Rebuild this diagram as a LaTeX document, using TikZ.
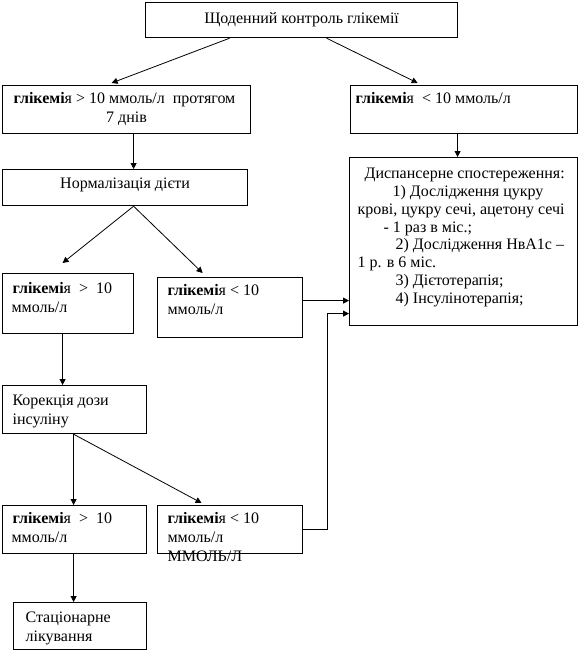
\documentclass[tikz,border=0pt]{standalone}
\usepackage{fontspec}
\setmainfont{Liberation Serif}
\usetikzlibrary{arrows.meta,calc}
\newdimen\pxu \pxu=0.75pt
\newcommand{\gl}{\textbf{глікемі}я}
\newcommand{\Ln}[3][l]{\makebox[\linewidth][#1]{\hspace*{#2\pxu}#3}\par}
\newcommand{\Bx}[3]{\parbox[t][#2\pxu][t]{#1\pxu}{\setlength{\parskip}{0pt}#3}}
\newcommand{\St}[1]{\rule{0pt}{#1\pxu}}
\tikzset{
  box/.style={draw, line width=0.9pt, inner sep=0pt, anchor=north west,
    font=\fontsize{12pt}{14.3pt}\selectfont},
  arr/.style={line width=0.6pt, -{Triangle[length=4.5pt,width=4.5pt]}}
}
\begin{document}
\begin{tikzpicture}[x=0.75pt,y=-0.75pt]
\useasboundingbox (0,0) rectangle (578,650);
\node[box] (top) at (145,2) {\Bx{312}{35}{\Ln[c]{0}{\St{21}Щоденний контроль глікемії}}};
\node[box] (b1) at (2,85) {\Bx{248}{48}{\Ln{11}{\St{18}\gl{} > 10 ммоль/л\ \ протягом}\Ln[c]{0}{7 днів}}};
\node[box] (b2) at (350,85) {\Bx{227}{48}{\Ln{5}{\St{18}\gl{}\ \ < 10 ммоль/л}}};
\node[box] (norm) at (2,169) {\Bx{245}{36}{\Ln[c]{0}{\St{19}Нормалізація дієти}}};
\node[box,font=\fontsize{12pt}{13.35pt}\selectfont] (disp) at (349,157) {\Bx{228}{168}{%
  \Ln{15}{\St{21}Диспансерне спостереження:}%
  \Ln{43}{1) Дослідження цукру}%
  \Ln{8}{крові, цукру сечі, ацетону сечі}%
  \Ln{34}{- 1 раз в міс.;}%
  \Ln{46}{2) Дослідження НвА1с –}%
  \Ln{8}{1 р. в 6 міс.}%
  \Ln{46}{3) Дієтотерапія;}%
  \Ln{46}{4) Інсулінотерапія;}}};
\node[box] (c1) at (2,273) {\Bx{131}{60}{\Ln{10}{\St{20}\gl{}\ \ >\ \ 10}\Ln{9}{ммоль/л}}};
\node[box] (c2) at (157,277) {\Bx{145}{60}{\Ln{10}{\St{18}\gl{} < 10}\Ln{10}{ммоль/л}}};
\node[box] (kor) at (2,385) {\Bx{144}{48}{\Ln{10}{\St{20}Корекція дози}\Ln{10}{інсуліну}}};
\node[box] (d1) at (2,505) {\Bx{144}{48}{\Ln{10}{\St{18}\gl{}\ \ >\ \ 10}\Ln{9}{ммоль/л}}};
\node[box] (d2) at (157,505) {\Bx{145}{48}{\Ln{10}{\St{18}\gl{} < 10}\Ln{10}{ммоль/л}\Ln{10}{ММОЛЬ/Л}}};
\node[box] (stat) at (13,602) {\Bx{133}{47}{\Ln{12}{\St{20}Стаціонарне}\Ln{12}{лікування}}};
\draw[arr] ($(top.south)+(-72,0)$) -- ($(b1.north)+(-15,-2)$);
\draw[arr] ($(top.south)+(25,0)$) -- ($(b2.north)+(-46.5,-2)$);
\draw[arr] ($(b1.south)+(7,0)$) -- ($(norm.north)+(8.5,0)$);
\draw[arr] ($(b2.south)+(-6.5,0)$) -- ($(disp.north)+(-6,0)$);
\draw[arr] ($(norm.south)+(8.5,0)$) -- ($(c1.north)+(-5.5,-10)$);
\draw[arr] ($(norm.south)+(8.5,0)$) -- ($(c2.north)+(-27.5,-4)$);
\draw[arr] ($(c1.south)+(-5.5,0)$) -- ($(kor.north)+(-12,0)$);
\draw[arr] ($(c2.east)+(0,-7)$) -- ($(disp.west)+(0,59)$);
\draw[arr] (d2.east) -- ++(24,0) |- ($(disp.west)+(0,72)$);
\draw[arr] ($(kor.south)+(-1,0)$) -- ($(d1.north)+(-1,0)$);
\draw[arr] ($(kor.south)+(-1,0)$) -- ($(d2.north)+(-28.5,-2)$);
\draw[arr] ($(d1.south)+(-1,0)$) -- ($(stat.north)+(-6.5,0)$);
\end{tikzpicture}
\end{document}
